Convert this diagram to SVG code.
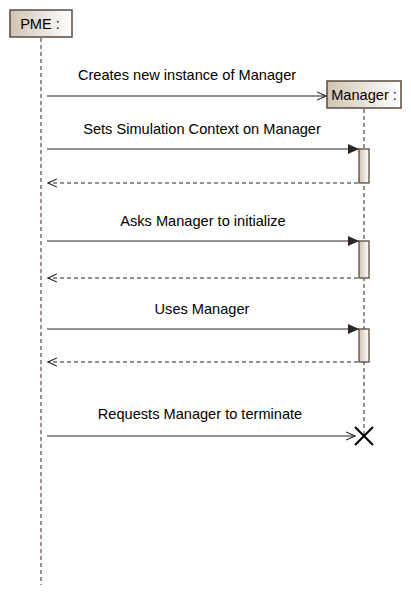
<svg xmlns="http://www.w3.org/2000/svg" width="411" height="596" viewBox="0 0 411 596">
<style>
.t{font-family:"Liberation Sans",Arial,sans-serif;font-size:14.6px;fill:#000}
.box{fill:url(#g);stroke:#5a4a3e;stroke-width:1.5}
.act{fill:url(#g);stroke:#5a4a3e;stroke-width:1.3}
.life{stroke:#5a4a3e;stroke-width:1.2;stroke-dasharray:4,3;fill:none}
.msg{stroke:#2e2420;stroke-width:1.2;fill:none}
.ret{stroke:#2e2420;stroke-width:1.2;stroke-dasharray:4,3;fill:none}
</style>
<defs>
<linearGradient id="g" x1="0" y1="0" x2="1" y2="0">
<stop offset="0" stop-color="#d0c4b4"/>
<stop offset="1" stop-color="#ffffff"/>
</linearGradient>
<marker id="open" markerWidth="10" markerHeight="10" refX="9" refY="5" orient="auto" markerUnits="userSpaceOnUse">
<path d="M0,1 L9,5 L0,9" fill="none" stroke="#2e2420" stroke-width="1.1"/>
</marker>
<marker id="fill" markerWidth="12" markerHeight="10" refX="11" refY="5" orient="auto" markerUnits="userSpaceOnUse">
<path d="M0,0 L11,5 L0,10 Z" fill="#2e2420"/>
</marker>
</defs>
<g id="PME">
<rect class="box" x="10" y="10" width="62" height="27"/>
<text class="t" x="40" y="29" text-anchor="middle">PME :</text>
<line class="life" x1="41" y1="38" x2="41" y2="585"/>
</g>
<g id="Manager">
<rect class="box" x="327" y="81" width="74" height="27"/>
<text class="t" x="364" y="100" text-anchor="middle">Manager :</text>
<line class="life" x1="364" y1="109" x2="364" y2="437"/>
<rect class="act" x="359" y="149" width="10" height="34"/>
<rect class="act" x="359" y="241" width="10" height="37"/>
<rect class="act" x="359" y="329" width="10" height="33"/>
</g>
<g id="connectors">
<line class="msg" x1="47" y1="96" x2="326" y2="96" marker-end="url(#open)"/>
<text class="t" x="187" y="80" text-anchor="middle">Creates new instance of Manager</text>
<line class="msg" x1="47" y1="149" x2="359" y2="149" marker-end="url(#fill)"/>
<text class="t" x="202" y="134" text-anchor="middle">Sets Simulation Context on Manager</text>
<line class="ret" x1="358" y1="183" x2="48" y2="183" marker-end="url(#open)"/>
<line class="msg" x1="47" y1="241" x2="359" y2="241" marker-end="url(#fill)"/>
<text class="t" x="203" y="226" text-anchor="middle">Asks Manager to initialize</text>
<line class="ret" x1="358" y1="278" x2="48" y2="278" marker-end="url(#open)"/>
<line class="msg" x1="47" y1="329" x2="359" y2="329" marker-end="url(#fill)"/>
<text class="t" x="202" y="314" text-anchor="middle">Uses Manager</text>
<line class="ret" x1="358" y1="362" x2="48" y2="362" marker-end="url(#open)"/>
<line class="msg" x1="47" y1="436" x2="355" y2="436" marker-end="url(#open)"/>
<text class="t" x="200" y="419" text-anchor="middle">Requests Manager to terminate</text>
</g>
<g id="destroy">
<path d="M355,427 L373,445 M373,427 L355,445" stroke="#000" stroke-width="2" fill="none"/>
</g>
</svg>
